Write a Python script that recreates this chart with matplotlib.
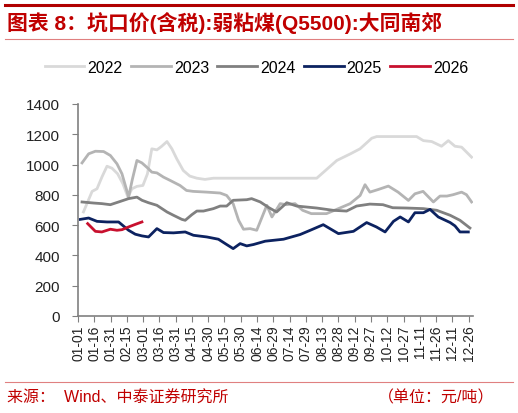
import numpy as np
import matplotlib
matplotlib.use('Agg')
import matplotlib.pyplot as plt
from matplotlib.lines import Line2D

plt.rcParams['font.family'] = ['Liberation Sans', 'Noto Sans CJK SC']
plt.rcParams['axes.unicode_minus'] = False

# x = day of year (leap-year calendar), y = 元/吨
d2022 = [5, 13, 17.5, 22, 26.7, 31.3, 36.5, 41.4, 46, 49.7, 54.3, 59.8, 64, 68, 72.7, 77, 82, 86.5, 91, 97,
         103, 109.5, 117, 124.8, 160, 220, 238.5, 250.8, 259.9, 270.7, 275.3, 312, 318.3, 326, 335, 341.3,
         347.4, 353.5, 362.7]
v2022 = [687, 823, 840, 917, 989, 976, 939, 873, 785, 840, 856, 862, 939, 1104, 1097, 1120, 1152, 1104, 1038, 961,
         924, 910, 902, 910, 910, 910, 1027, 1070, 1104, 1174, 1185, 1185, 1158, 1152, 1121, 1158,
         1121, 1115, 1049]

d2023 = [3.7, 9.8, 16, 23.6, 29.8, 35.9, 40.5, 44.5, 46.6, 50, 54.3, 58.9, 65, 68, 72.7, 78.8, 85, 94,
         100, 106, 118.7, 131, 137, 143, 148, 152.5, 158.6, 164.7, 174, 178.7, 186.3, 192, 200, 207, 215,
         229, 240, 250.8, 260, 264.5, 269, 277, 286, 295, 304.5, 310.5, 318, 327.5, 333.6, 340, 345.7,
         353.5, 358, 362.7]
v2023 = [1011, 1071, 1088, 1086, 1060, 1005, 939, 840, 785, 900, 1027, 1011, 972, 950, 945, 917, 895, 862,
         829, 823, 818, 812, 796, 741, 632, 573, 577, 566, 731, 654, 742, 735, 742, 698, 676,
         676, 709, 742, 796, 867, 818, 836, 858, 818, 763, 807, 823, 753, 792, 792, 801,
         818, 801, 753]

d2024 = [3.7, 14.4, 22, 29.8, 37.4, 46.6, 54.3, 59, 65, 72.7, 82, 88, 95.7, 98.8, 104.9, 109.5, 115.6,
         124.8, 131, 137, 143, 155.5, 160, 168, 176, 183, 192.4, 201.6, 220, 235, 247.5, 256.7, 269,
         281, 290, 302.7, 318.3, 330.6, 343, 352, 361.2]
v2024 = [753, 746, 742, 735, 753, 775, 785, 764, 748, 731, 687, 665, 638, 632, 669, 693, 693,
         709, 726, 726, 764, 768, 775, 753, 715, 687, 748, 726, 713, 698, 693, 726, 739,
         735, 715, 713, 709, 698, 665, 632, 581]

d2025 = [2.1, 9.8, 17.5, 26.7, 37.4, 46.6, 52.8, 58.9, 65, 72.7, 78.8, 88, 98.8, 106.4, 118.7, 129.4,
         137, 143, 149.4, 155.5, 161.7, 172.5, 189.4, 204.7, 214, 226, 240, 253.8, 266, 275, 283,
         290.7, 296.9, 304.5, 310.5, 318.3, 324.4, 332, 343, 347.4, 352, 359.7]
v2025 = [638, 647, 625, 621, 621, 566, 540, 529, 522, 577, 551, 549, 555, 533, 522, 507,
         472, 445, 478, 463, 472, 494, 507, 538, 566, 603, 544, 559, 617, 588, 555,
         625, 654, 621, 682, 682, 704, 654, 617, 595, 555, 555]

d2026 = [8.9, 16, 22, 29.8, 35.9, 40.5, 46.6, 52.8, 58.9]
v2026 = [610, 559, 555, 573, 566, 570, 588, 605, 621]

tick_days = list(range(0, 361, 15))
tick_labels = ['01-01', '01-16', '01-31', '02-15', '03-01', '03-16', '03-31', '04-15', '04-30',
               '05-15', '05-30', '06-14', '06-29', '07-14', '07-29', '08-13', '08-28', '09-12',
               '09-27', '10-12', '10-27', '11-11', '11-26', '12-11', '12-26']

series = [('2022', d2022, v2022, '#d9d9d9'),
          ('2023', d2023, v2023, '#b4b4b4'),
          ('2024', d2024, v2024, '#808080'),
          ('2025', d2025, v2025, '#0c2260'),
          ('2026', d2026, v2026, '#c8102e')]

fig = plt.figure(figsize=(5.18, 4.14), dpi=100)
ax = fig.add_axes([0.1506, 0.2343, 0.7625, 0.5121])

for name, d, v, c in series:
    ax.plot(d, v, color=c, lw=2, label=name, solid_joinstyle='round')

ax.set_xlim(0, 364)
ax.set_ylim(0, 1400)
ax.set_yticks(np.arange(0, 1401, 200))
ax.set_xticks(tick_days)
ax.set_xticklabels(tick_labels, rotation=90)
ax.tick_params(axis='both', direction='out', length=4, color='#808080', labelsize=11,
               labelcolor='#222222')
ax.tick_params(axis='y', pad=9)
ax.tick_params(axis='x', labelsize=10, pad=2)
for s in ['top', 'right']:
    ax.spines[s].set_visible(False)
for s in ['left', 'bottom']:
    ax.spines[s].set_color('#808080')
    ax.spines[s].set_linewidth(1.2)

handles = [Line2D([], [], color=c, lw=2) for _, _, _, c in series]
fig.legend(handles, [s[0] for s in series], loc='center', bbox_to_anchor=(0.495, 0.835), ncol=5,
           frameon=False, fontsize=11.5, handlelength=2.5, handletextpad=0.2, columnspacing=0.5)

# header / footer
fig.add_artist(Line2D([0.01, 0.99], [0.985, 0.985], color='#b00000', lw=2.2))
fig.add_artist(Line2D([0.01, 0.99], [0.903, 0.903], color='#e08080', lw=0.8))
fig.add_artist(Line2D([0.01, 0.99], [0.075, 0.075], color='#e08080', lw=0.8))
fig.text(0.013, 0.945, '图表 8：坑口价(含税):弱粘煤(Q5500):大同南郊', color='#c00000',
         fontsize=15, fontweight='bold', va='center', ha='left',
         family=['Liberation Sans', 'Noto Sans CJK SC'])
fig.text(0.013, 0.038, '来源：  Wind、中泰证券研究所', color='#c00000', fontsize=11.5,
         va='center', ha='left')
fig.text(0.955, 0.038, '（单位：元/吨）', color='#c00000', fontsize=11.5, va='center', ha='right')

fig.savefig('out.png', dpi=100)
